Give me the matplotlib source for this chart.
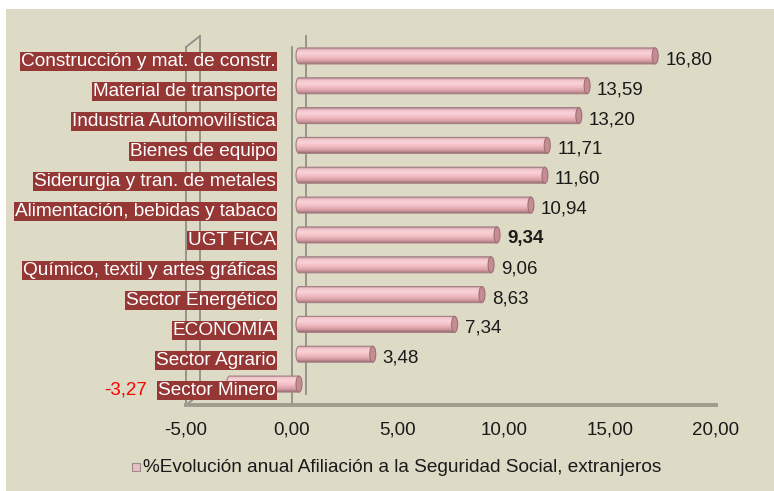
import numpy as np
import matplotlib.pyplot as plt
from matplotlib.patches import Ellipse, Rectangle, PathPatch
from matplotlib.path import Path
from matplotlib.colors import LinearSegmentedColormap

# Data
categories = [
    "Construcción y mat. de constr.",
    "Material de transporte",
    "Industria Automovilística",
    "Bienes de equipo",
    "Siderurgia y tran. de metales",
    "Alimentación, bebidas y tabaco",
    "UGT FICA",
    "Químico, textil y artes gráficas",
    "Sector Energético",
    "ECONOMÍA",
    "Sector Agrario",
    "Sector Minero",
]
values = [16.80, 13.59, 13.20, 11.71, 11.60, 10.94, 9.34, 9.06, 8.63, 7.34, 3.48, -3.27]
xticks = [-5, 0, 5, 10, 15, 20]
legend_label = "%Evolución anual Afiliación a la Seguridad Social, extranjeros"

plt.rcParams['font.family'] = ['Liberation Sans', 'DejaVu Sans']

W, H = 774, 491
fig = plt.figure(figsize=(W / 100, H / 100), dpi=100)
fig.patch.set_facecolor('white')
fig.add_artist(Rectangle((6 / W, 0), 1, 1 - 9 / H, transform=fig.transFigure,
                         facecolor='#DDDAC5', edgecolor='none', zorder=0))

# front plane of the 3D box: x=-5 -> 186px, x=20 -> 716px, y from 47px to 405px
ax = fig.add_axes([186 / W, 1 - 405 / H, 530 / W, 358 / H])
ax.set_facecolor('none')
for s in ax.spines.values():
    s.set_visible(False)

px_x = 530 / 25.0   # pixels per x unit
px_y = 358 / 12.0   # pixels per category
dxb, dyb = 14 / px_x, -11 / px_y   # back wall offset
dxm, dym = 7 / px_x, -6 / px_y     # bars sit mid depth
bar_h = 16 / px_y
cap_w = 6 / px_x

ymin, ymax = -0.5, len(categories) - 0.5
wall = '#8F8F87'
lines = [
    ((-5, -5), (ymin, ymax)),
    ((-5, -5 + dxb), (ymin, ymin + dyb)),
    ((-5 + dxb, -5 + dxb), (ymin + dyb, ymax + dyb)),
    ((-5, -5 + dxb), (ymax, ymax + dyb)),
    ((0, 0), (ymin, ymax)),
    ((dxb, dxb), (ymin + dyb, ymax + dyb)),
]
for xs, ys in lines:
    ax.plot(xs, ys, color=wall, lw=1.3, clip_on=False, zorder=1)
ax.plot([-5, 20], [ymax, ymax], color='#9E9D8E', lw=2.8, clip_on=False, zorder=1)

cyl = LinearSegmentedColormap.from_list('cyl', [
    (0.0, '#B38E92'), (0.12, '#F1C6CC'), (0.35, '#F9D2D7'),
    (0.6, '#F0BAC1'), (0.85, '#D29AA1'), (1.0, '#946A6F')])

for i, v in enumerate(values):
    left = min(0, v) + dxm
    right = max(0, v) + dxm
    yc = i + dym
    y0, y1 = yc - bar_h / 2, yc + bar_h / 2
    s = np.linspace(0, np.pi, 30)
    arc = np.column_stack([left - cap_w / 2 * np.sin(s), y0 + bar_h * (1 - np.cos(s)) / 2])
    verts = np.vstack([[right, y0], [left, y0], arc, [right, y1], [right, y0]])
    codes = [Path.MOVETO] + [Path.LINETO] * (len(verts) - 2) + [Path.CLOSEPOLY]
    body = PathPatch(Path(verts, codes), facecolor='none', edgecolor='#A57F84', lw=0.8, zorder=3)
    ax.add_patch(body)
    grad = np.linspace(0, 1, 64).reshape(-1, 1)
    im = ax.imshow(grad, cmap=cyl, extent=(left - cap_w / 2, right, y1, y0),
                   aspect='auto', interpolation='bicubic', zorder=2)
    im.set_clip_path(body)
    ax.add_patch(Ellipse((right, yc), cap_w, bar_h, facecolor='#C68C93',
                         edgecolor='#9E7075', lw=0.8, zorder=4))

    # category label: white on dark red
    ax.text(-0.76, i, categories[i], ha='right', va='center', color='white',
            fontsize=13.7, zorder=6,
            bbox=dict(boxstyle='square,pad=0.05', facecolor='#953735', edgecolor='none'))

    lab = f"{v:.2f}".replace('.', ',')
    if v >= 0:
        ax.annotate(lab, (v, i), xytext=(17, 2), textcoords='offset pixels',
                    ha='left', va='center', fontsize=13.5, color='#1A1A1A',
                    fontweight='bold' if categories[i] == 'UGT FICA' else 'normal', zorder=6)
    else:
        ax.annotate(lab, (v, i), xytext=(-76, 0), textcoords='offset pixels',
                    ha='right', va='center', fontsize=13.5, color='#FF0000', zorder=6)

ax.set_xlim(-5, 20)
ax.set_ylim(ymax, ymin)
ax.set_yticks([])
ax.set_xticks(xticks)
ax.set_xticklabels([f"{t:.2f}".replace('.', ',') for t in xticks], fontsize=13.5, color='#1A1A1A')
ax.tick_params(axis='x', length=0, pad=12)

# legend
fig.add_artist(Rectangle((132 / W, 1 - 471 / H), 8 / W, 8 / H, transform=fig.transFigure,
                         facecolor='#E8BFC4', edgecolor='#9C8A8C', lw=0.8))
fig.text(143 / W, 1 - 467 / H, legend_label, ha='left', va='center', fontsize=13.7, color='#1A1A1A')

fig.savefig('out.png', dpi=100, facecolor=fig.get_facecolor())
